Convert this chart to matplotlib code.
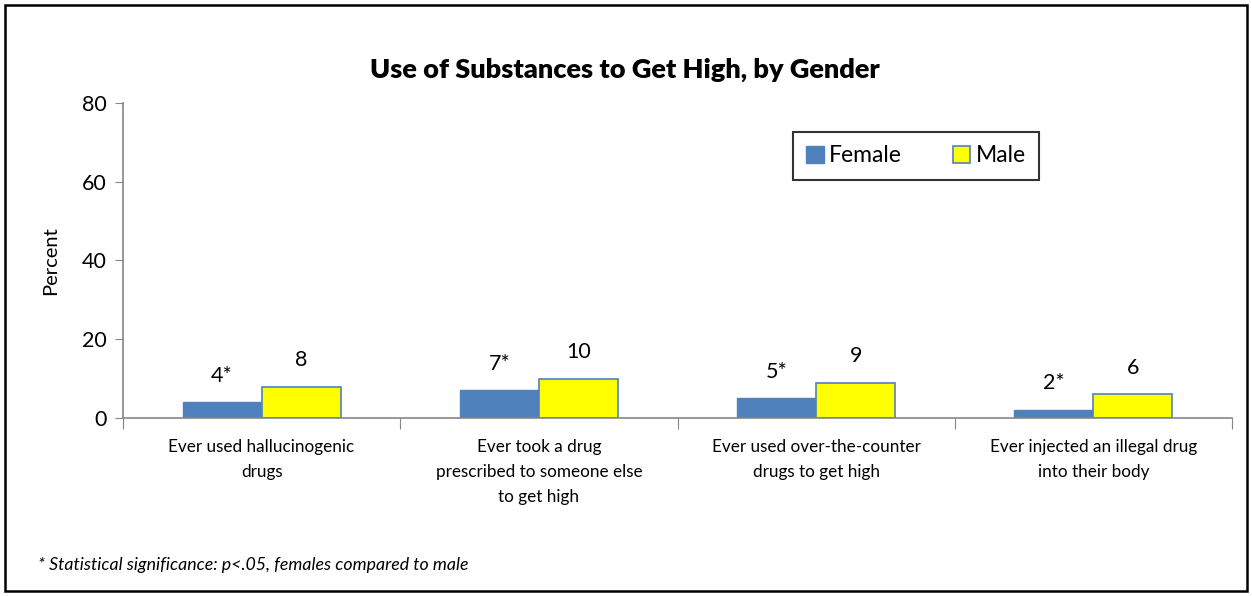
import matplotlib.pyplot as plt
import numpy as np
from matplotlib.patches import Rectangle

categories = [
    "Ever used hallucinogenic\ndrugs",
    "Ever took a drug\nprescribed to someone else\nto get high",
    "Ever used over-the-counter\ndrugs to get high",
    "Ever injected an illegal drug\ninto their body",
]
female = [4, 7, 5, 2]
male = [8, 10, 9, 6]
female_labels = ["4*", "7*", "5*", "2*"]
male_labels = ["8", "10", "9", "6"]

plt.rcParams['font.family'] = ['Lato', 'DejaVu Sans']

W, H = 1252, 596
fig = plt.figure(figsize=(W / 100, H / 100), dpi=100)

# outer frame
fig.patches.append(Rectangle((5 / W, 5 / H), 1 - 10 / W, 1 - 10 / H,
                             transform=fig.transFigure, fill=False,
                             edgecolor='black', linewidth=1.8))

left, right = 123 / W, 1232 / W
bottom, top = 1 - 418 / H, 1 - 103 / H
ax = fig.add_axes([left, bottom, right - left, top - bottom])

x = np.arange(len(categories))
bw = 0.285
blue = '#4F81BD'
ax.bar(x - bw / 2, female, bw, color=blue, edgecolor=blue, linewidth=1, label='Female')
ax.bar(x + bw / 2, male, bw, color='#FFFF00', edgecolor=blue, linewidth=1.2, label='Male')

for i in range(len(categories)):
    ax.annotate(female_labels[i], (x[i] - bw / 2, female[i]), xytext=(0, 12),
                textcoords='offset points', ha='center', va='bottom', fontsize=15.5)
    ax.annotate(male_labels[i], (x[i] + bw / 2, male[i]), xytext=(0, 12),
                textcoords='offset points', ha='center', va='bottom', fontsize=15.5)

ax.set_xlim(-0.5, len(categories) - 0.5)
ax.set_ylim(0, 80)
ax.set_yticks([0, 20, 40, 60, 80])
ax.tick_params(axis='y', labelsize=15.5, length=6, color='#868686', pad=6)
ax.set_xticks(np.arange(len(categories) + 1) - 0.5)
ax.set_xticklabels([])
ax.set_xticks(x, minor=True)
ax.set_xticklabels(categories, minor=True, fontsize=12.3, linespacing=1.7)
ax.tick_params(axis='x', which='major', length=8, color='#868686')
ax.tick_params(axis='x', which='minor', length=0, pad=15)

for s in ['top', 'right']:
    ax.spines[s].set_visible(False)
for s in ['left', 'bottom']:
    ax.spines[s].set_color('#868686')
    ax.spines[s].set_linewidth(1.2)

ax.set_ylabel('Percent', fontsize=14.5, labelpad=16)

fig.text(625 / W, 1 - 70 / H, 'Use of Substances to Get High, by Gender',
         ha='center', va='center', fontsize=19.5, fontweight='heavy')

leg = ax.legend(loc='center', bbox_to_anchor=(916 / W, 1 - 156 / H),
                bbox_transform=fig.transFigure, ncol=2, fontsize=16.5,
                frameon=True, fancybox=False, edgecolor='black', handlelength=0.75,
                handleheight=0.75, handletextpad=0.25, columnspacing=2.2,
                borderpad=0.6, borderaxespad=0)
leg.get_frame().set_linewidth(1.5)

fig.text(38 / W, 1 - 565 / H, '* Statistical significance: p<.05, females compared to male',
         ha='left', va='center', fontsize=12.8, style='italic')

fig.savefig('out.png', dpi=100)
